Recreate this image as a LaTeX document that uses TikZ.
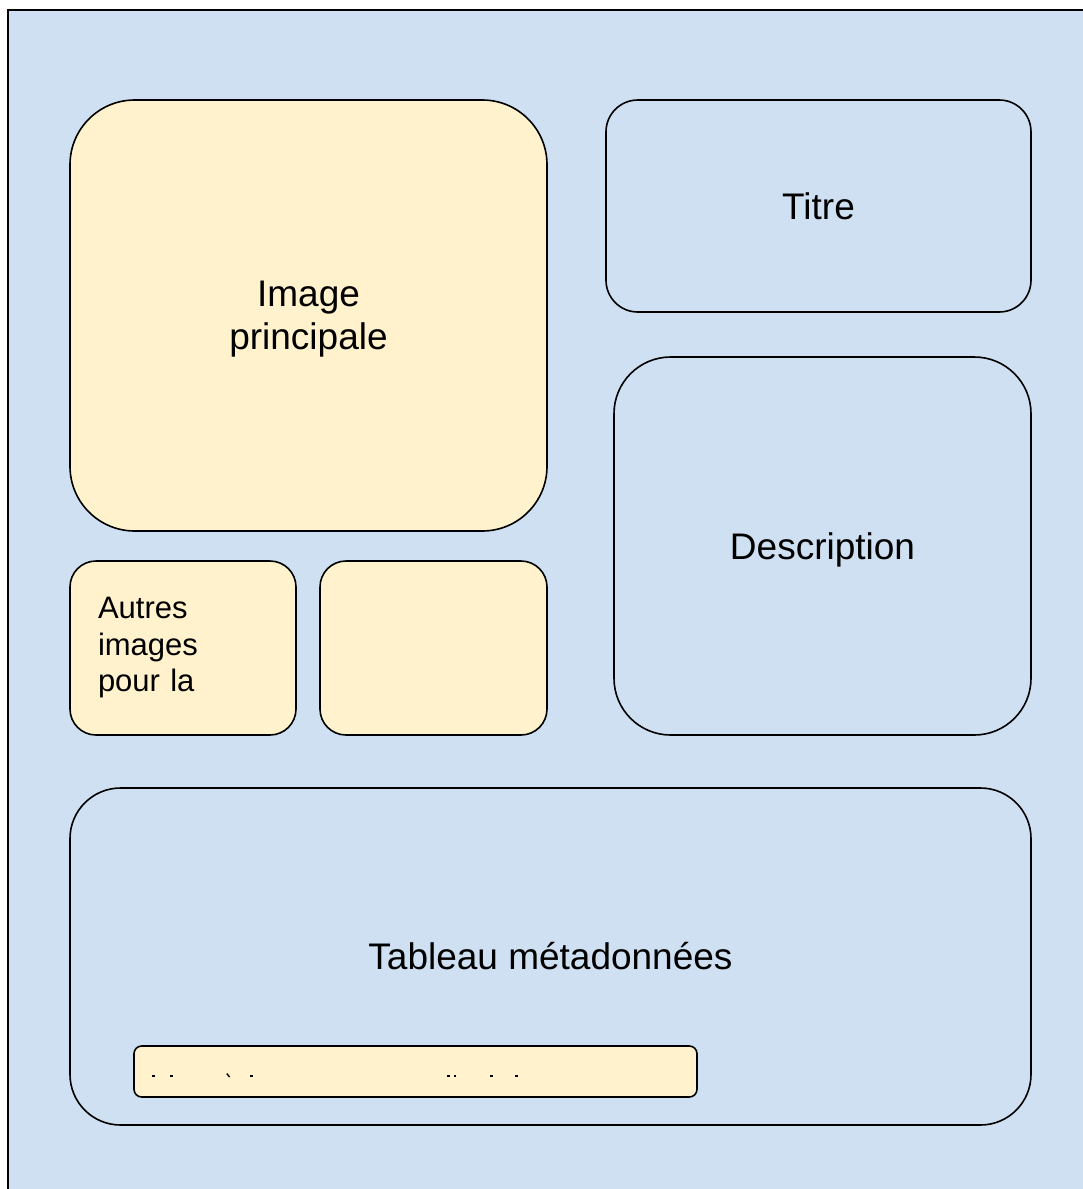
\documentclass[tikz,border=0pt]{standalone}
\usepackage{fontspec}
\setmainfont{Liberation Sans}
\definecolor{paneblue}{RGB}{206,224,242}
\definecolor{paneyellow}{RGB}{255,242,204}
\begin{document}
\begin{tikzpicture}[x=1pt,y=-1pt,
  panel/.style={draw=black, line width=1.6pt, rectangle, inner sep=0pt, align=center,
    font=\fontsize{37}{38.5}\selectfont},
  oneline/.style={text height=26.5pt, text depth=0pt},
  bluepanel/.style={panel, fill=paneblue},
  yellowpanel/.style={panel, fill=paneyellow},
  speck/.style={fill=black}]
  \useasboundingbox (0,0) rectangle (1083,1189);
  % page background with its frame running off the right and bottom edges
  \begin{scope}
    \clip (0,0) rectangle (1083,1189);
    \draw[fill=paneblue, line width=1.6pt] (8,10) rectangle (1100,1210);
  \end{scope}

  % main picture
  \node[yellowpanel, text depth=0pt, minimum width=477pt, minimum height=431pt, rounded corners=64.7pt]
    (main) at (308.5,315.5) {Image\\[4.5pt]principale};
  % thumbnails
  \node[yellowpanel, minimum width=226pt, minimum height=174pt, rounded corners=26pt,
    text width=170pt, align=left, font=\fontsize{31}{36.5}\selectfont]
    (thumbA) at (183,648) {Autres\\images\\pour la};
  \node[yellowpanel, minimum width=227pt, minimum height=174pt, rounded corners=26pt]
    (thumbB) at (433.5,648) {};
  % title and description
  \node[bluepanel, oneline, minimum width=425pt, minimum height=212pt, rounded corners=31.8pt]
    (title) at (818.5,206) {Titre};
  \node[bluepanel, oneline, minimum width=417pt, minimum height=378pt, rounded corners=56.7pt]
    (desc) at (822.5,546) {Description};
  % metadata table
  \node[bluepanel, oneline, minimum width=961pt, minimum height=337pt, rounded corners=50.6pt]
    (meta) at (550.5,956.5) {Tableau métadonnées};
  \node[yellowpanel, minimum width=563pt, minimum height=51pt, rounded corners=7.7pt]
    (row) at (415.5,1071.5) {};
  % specks of text left inside the row
  \foreach \px in {153.3,171.7,251.7,448.3,455,491.7,516.7}
    \fill[speck] (\px-1.3,1074.8) rectangle (\px+1.3,1077.4);
  \draw[line width=1.4pt] (226.8,1073.5) -- (229.6,1077);
\end{tikzpicture}
\end{document}
